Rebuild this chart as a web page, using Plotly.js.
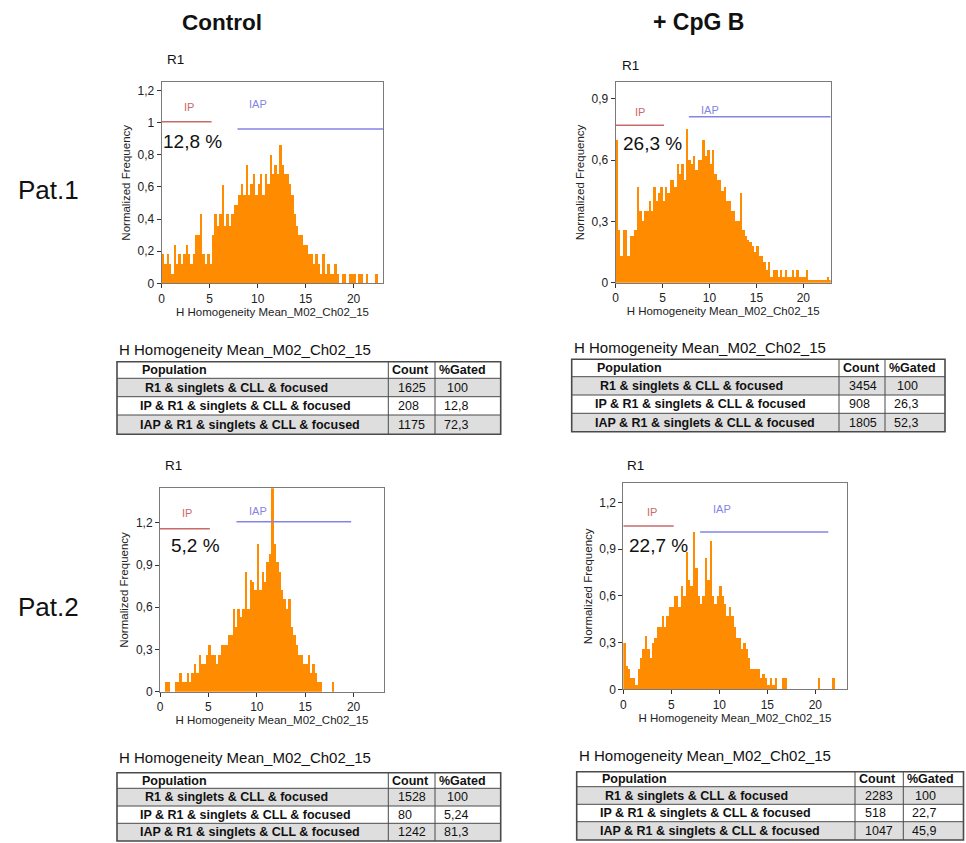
<!DOCTYPE html>
<html>
<head>
<meta charset="utf-8">
<script src="https://cdn.plot.ly/plotly-3.0.1.min.js"></script>
<style>html,body{margin:0;padding:0;background:#fff;}#chart{width:966px;height:843px;}</style>
</head>
<body>
<div id="chart"></div>
<script>
// ---------------- DATA ----------------
const binWidth = 0.25; // histogram bin width (H Homogeneity units)

const p1Control = [0.18,0.12,0.18,0.12,0.06,0.24,0.12,0.18,0.12,0.18,
  0.24,0.18,0.12,0.18,0.3,0.3,0.43,0.18,0.12,0.18,
  0.12,0.3,0.43,0.36,0.43,0.61,0.36,0.43,0.36,0.43,
  0.49,0.49,0.55,0.62,0.55,0.74,0.55,0.62,0.68,0.55,
  0.62,0.68,0.55,0.68,0.62,0.8,0.68,0.74,0.68,0.86,
  0.74,0.68,0.68,0.62,0.55,0.43,0.36,0.3,0.3,0.24,
  0.24,0.18,0.18,0.12,0.18,0.12,0.06,0.18,0.06,0.12,
  0.06,0.06,0.12,0.06,0,0.06,0.06,0,0.06,0.06,
  0.06,0,0.06,0.06,0,0.06,0,0,0,0.06,
  0,0];

const p1CpG = [0.7,0.26,0.13,0.26,0.26,0.13,0.23,0.23,0.26,0.47,
  0.35,0.3,0.35,0.35,0.4,0.35,0.47,0.4,0.44,0.47,
  0.4,0.47,0.44,0.5,0.5,0.47,0.58,0.53,0.58,0.5,
  0.75,0.6,0.58,0.62,0.55,0.6,0.6,0.7,0.62,0.65,
  0.58,0.65,0.53,0.5,0.5,0.45,0.47,0.4,0.4,0.35,
  0.35,0.3,0.3,0.44,0.26,0.23,0.21,0.2,0.18,0.15,
  0.18,0.13,0.13,0.1,0.06,0.1,0.03,0.06,0.06,0.03,
  0.06,0.03,0.06,0.03,0.03,0.06,0.03,0.06,0.03,0.03,
  0.03,0.06,0.015,0.015,0.015,0.015,0.015,0.015,0.015,0.015,
  0.03,0.015];

const p2Control = [0,0,0.07,0.07,0,0,0.07,0.07,0.13,0.07,
  0.07,0.13,0.07,0.13,0.2,0.13,0.26,0.2,0.2,0.26,
  0.33,0.26,0.26,0.2,0.26,0.33,0.33,0.33,0.4,0.4,
  0.59,0.46,0.59,0.53,0.59,0.85,0.59,0.79,0.78,0.72,
  1.05,0.72,0.85,0.78,0.92,0.98,1.5,1.05,0.92,0.85,
  0.72,0.66,0.59,0.66,0.46,0.4,0.33,0.26,0.26,0.2,
  0.2,0.26,0.13,0.2,0.13,0.07,0.07,0,0,0,
  0,0.07,0,0,0,0,0,0,0,0,
  0,0,0,0,0,0,0,0,0,0,
  0,0];

const p2CpG = [0.3,0.15,0.13,0.07,0.07,0.03,0.13,0.2,0.26,0.34,
  0.26,0.2,0.3,0.33,0.4,0.4,0.47,0.4,0.47,0.53,
  0.53,0.6,0.6,0.53,0.66,0.6,0.88,0.7,0.66,1.01,
  0.78,0.6,0.55,0.6,0.84,0.7,0.95,0.6,0.55,0.6,
  0.66,0.6,0.55,0.47,0.53,0.47,0.4,0.33,0.33,0.26,
  0.3,0.26,0.2,0.13,0.13,0.13,0.13,0.07,0.1,0.07,
  0.03,0.07,0.03,0.07,0,0,0.07,0.07,0,0,
  0,0,0,0,0,0,0,0,0,0,
  0,0.07,0,0,0,0,0,0.07,0,0,
  0,0];

// gates (x ranges) and their drawn levels, per panel: P1 Control, P1 CpG, P2 Control, P2 CpG
const ipGates = [[0,5.2],[0,5.15],[0,5.15],[0,5.25]];
const iapGates = [[7.9,23.1],[7.8,22.92],[7.9,19.75],[8.0,21.35]];
const ipGateLevel = [1.007,0.77,1.158,1.048];
const iapGateLevel = [0.961,0.812,1.207,1.01];
const ipPercentLabels = ['12,8 %','26,3 %','5,2 %','22,7 %'];

const columnTitles = ['Control','+ CpG B'];
const rowTitles = ['Pat.1','Pat.2'];
const gateLabel = 'R1';
const featureName = 'H Homogeneity Mean_M02_Ch02_15';
const yTitle = 'Normalized Frequency';

const tableHeader = ['Population','Count','%Gated'];
const populations = ['R1 & singlets & CLL & focused','IP & R1 & singlets & CLL & focused','IAP & R1 & singlets & CLL & focused'];
const countP1Control = ['1625','208','1175'];
const gatedP1Control = ['100','12,8','72,3'];
const countP1CpG = ['3454','908','1805'];
const gatedP1CpG = ['100','26,3','52,3'];
const countP2Control = ['1528','80','1242'];
const gatedP2Control = ['100','5,24','81,3'];
const countP2CpG = ['2283','518','1047'];
const gatedP2CpG = ['100','22,7','45,9'];

// ---------------- LAYOUT CONFIG ----------------
const W = 966, H = 843;
const FONT = 'Arial, "Liberation Sans", Helvetica, sans-serif';
const ORANGE = '#ff8c00';
const IPC = '#c86a6a', IAPC = '#8484e6';
const px = v => v / W;
const py = v => 1 - v / H;

const panels = [
  {data: p1Control, xPx:[161.7,383.3], yPx:[82.3,283.3], xr:[0,23.1], yr:[0,1.252], dy:0.2,
   pct:[3.2,0.882], ipL:[2.84,1.10], iapL:[10.06,1.117], r1:[165,59]},
  {data: p1CpG, xPx:[615.7,830.7], yPx:[82.3,282.7], xr:[0,22.92], yr:[0,0.98], dy:0.3,
   pct:[3.9,0.683], ipL:[2.6,0.837], iapL:[10,0.845], r1:[620,66]},
  {data: p2Control, xPx:[160,384], yPx:[488.3,691.7], xr:[0,23.14], yr:[0,1.445], dy:0.3,
   pct:[3.7,1.04], ipL:[2.83,1.267], iapL:[10.15,1.283], r1:[163,465]},
  {data: p2CpG, xPx:[623.3,846.7], yPx:[483.3,689.3], xr:[0,23.27], yr:[0,1.322], dy:0.3,
   pct:[3.7,0.926], ipL:[2.95,1.14], iapL:[10.25,1.16], r1:[625,465]}
];

const traces = [];
const layout = {
  width: W, height: H, autosize: false,
  margin: {l:0, r:0, t:0, b:0},
  paper_bgcolor: '#fff', plot_bgcolor: '#fff',
  separators: ',.',
  bargap: 0,
  showlegend: false,
  font: {family: FONT, color: '#222'},
  annotations: [],
  shapes: []
};

panels.forEach((p, i) => {
  const sfx = i === 0 ? '' : String(i + 1);
  const xa = 'x' + sfx, ya = 'y' + sfx;
  traces.push({type:'bar', x0: binWidth/2, dx: binWidth, y: p.data, xaxis: xa, yaxis: ya,
    marker:{color: ORANGE, line:{width:0}}, hoverinfo:'skip'});
  traces.push({type:'scatter', mode:'lines', x: ipGates[i], y:[ipGateLevel[i], ipGateLevel[i]],
    xaxis: xa, yaxis: ya, line:{color: IPC, width:1.5}, hoverinfo:'skip', cliponaxis:false});
  traces.push({type:'scatter', mode:'lines', x: iapGates[i], y:[iapGateLevel[i], iapGateLevel[i]],
    xaxis: xa, yaxis: ya, line:{color: IAPC, width:1.5}, hoverinfo:'skip', cliponaxis:false});

  layout['xaxis' + sfx] = {
    domain:[px(p.xPx[0]), px(p.xPx[1])], anchor: ya, range: p.xr, dtick: 5, tick0: 0,
    ticks:'outside', ticklen:4, tickcolor:'#333', showline:true, mirror:true, linecolor:'#7a7a7a', linewidth:1,
    showgrid:false, zeroline:false, tickfont:{size:12, color:'#222'},
    title:{text: featureName, font:{size:11.5, color:'#222'}, standoff:2}, fixedrange:true
  };
  layout['yaxis' + sfx] = {
    domain:[py(p.yPx[1]), py(p.yPx[0])], anchor: xa, range: p.yr, dtick: p.dy, tick0: 0,
    ticks:'outside', ticklen:4, tickcolor:'#333', showline:true, mirror:true, linecolor:'#7a7a7a', linewidth:1,
    showgrid:false, zeroline:false, tickfont:{size:12, color:'#222'},
    title:{text: yTitle, font:{size:11.5, color:'#222'}, standoff:4}, fixedrange:true
  };
  layout.annotations.push(
    {xref: xa, yref: ya, x: p.pct[0], y: p.pct[1], text: ipPercentLabels[i], showarrow:false,
     font:{size:19, color:'#111'}, xanchor:'center', yanchor:'middle'},
    {xref: xa, yref: ya, x: p.ipL[0], y: p.ipL[1], text: 'IP', showarrow:false,
     font:{size:11, color: IPC}, xanchor:'center', yanchor:'middle'},
    {xref: xa, yref: ya, x: p.iapL[0], y: p.iapL[1], text: 'IAP', showarrow:false,
     font:{size:11, color: IAPC}, xanchor:'center', yanchor:'middle'},
    {xref:'paper', yref:'paper', x: px(p.r1[0]), y: py(p.r1[1]), text: gateLabel, showarrow:false,
     font:{size:13.5, color:'#111'}, xanchor:'left', yanchor:'middle'}
  );
});

// column / row titles
layout.annotations.push(
  {xref:'paper', yref:'paper', x: px(222), y: py(22), text:'<b>' + columnTitles[0] + '</b>', showarrow:false,
   font:{size:22.5, color:'#111'}, xanchor:'center', yanchor:'middle'},
  {xref:'paper', yref:'paper', x: px(698), y: py(22), text:'<b>' + columnTitles[1] + '</b>', showarrow:false,
   font:{size:23, color:'#111'}, xanchor:'center', yanchor:'middle'},
  {xref:'paper', yref:'paper', x: px(48), y: py(190), text: rowTitles[0], showarrow:false,
   font:{size:26, color:'#111'}, xanchor:'center', yanchor:'middle'},
  {xref:'paper', yref:'paper', x: px(48), y: py(607), text: rowTitles[1], showarrow:false,
   font:{size:26, color:'#111'}, xanchor:'center', yanchor:'middle'}
);

// tables (drawn as paper-space shapes + text annotations)
const GRAY = '#dedede';
const LINE = '#4a4a4a';
const tables = [
  {count: countP1Control, gated: gatedP1Control, x:[117,500.7], seps:[388.3,435], rows:[361.7,378.3,396.7,415,434.3], title:[117,349]},
  {count: countP1CpG, gated: gatedP1CpG, x:[571.7,945], seps:[839,885], rows:[359.3,376.7,395,413.3,431.7], title:[572,347]},
  {count: countP2Control, gated: gatedP2Control, x:[117,500.7], seps:[388.3,435], rows:[772.7,788.3,806,823.3,841], title:[117,757]},
  {count: countP2CpG, gated: gatedP2CpG, x:[576.7,963.5], seps:[855,903.3], rows:[771.7,786.7,804.3,821.7,840], title:[577,755]}
];
const rect = (x0, x1, y0, y1, fill, lineW) => ({type:'rect', xref:'paper', yref:'paper',
  x0: px(x0), x1: px(x1), y0: py(y1), y1: py(y0), fillcolor: fill, line:{color: LINE, width: lineW}, layer:'above'});
const hline = (x0, x1, y) => ({type:'line', xref:'paper', yref:'paper', x0: px(x0), x1: px(x1), y0: py(y), y1: py(y),
  line:{color: LINE, width:1}, layer:'above'});
const vline = (x, y0, y1) => ({type:'line', xref:'paper', yref:'paper', x0: px(x), x1: px(x), y0: py(y0), y1: py(y1),
  line:{color: LINE, width:1}, layer:'above'});
const txt = (x, y, s, size, bold) => ({xref:'paper', yref:'paper', x: px(x), y: py(y),
  text: bold ? '<b>' + s + '</b>' : s, showarrow:false, xanchor:'left', yanchor:'middle',
  font:{size: size, color:'#111', family: FONT}});
const popIndent = [26, 21, 21];

tables.forEach(t => {
  const r = t.rows;
  // gray fills for data rows 1 and 3
  layout.shapes.push(rect(t.x[0], t.x[1], r[1], r[2], GRAY, 0));
  layout.shapes.push(rect(t.x[0], t.x[1], r[3], r[4], GRAY, 0));
  // row separators and column separators
  for (let k = 1; k < 4; k++) layout.shapes.push(hline(t.x[0], t.x[1], r[k]));
  t.seps.forEach(s => layout.shapes.push(vline(s, r[0], r[4])));
  // outer frame
  layout.shapes.push(rect(t.x[0], t.x[1], r[0], r[4], 'rgba(0,0,0,0)', 1.6));
  // header
  const hy = (r[0] + r[1]) / 2;
  layout.annotations.push(txt(t.x[0] + 23, hy, tableHeader[0], 12.5, true));
  layout.annotations.push(txt(t.seps[0] + 2, hy, tableHeader[1], 12.5, true));
  layout.annotations.push(txt(t.seps[1] + 2, hy, tableHeader[2], 12.5, true));
  // body
  for (let k = 0; k < 3; k++) {
    const cy = (r[k + 1] + r[k + 2]) / 2;
    layout.annotations.push(txt(t.x[0] + popIndent[k], cy, populations[k], 12.5, true));
    layout.annotations.push(txt(t.seps[0] + 8, cy, t.count[k], 12.5, false));
    layout.annotations.push(txt(t.seps[1] + (k === 0 ? 10 : 7), cy, t.gated[k], 12.5, false));
  }
  layout.annotations.push({xref:'paper', yref:'paper', x: px(t.title[0]), y: py(t.title[1]),
    text: featureName, showarrow:false, font:{size:15, color:'#111'}, xanchor:'left', yanchor:'middle'});
});

Plotly.newPlot('chart', traces, layout, {displayModeBar:false, staticPlot:true});
</script>
</body>
</html>
